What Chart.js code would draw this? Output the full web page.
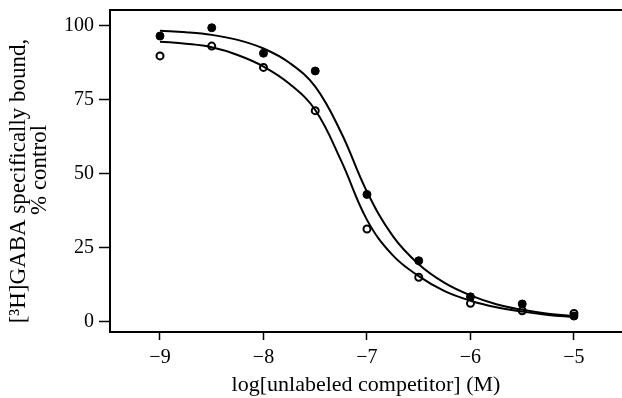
<!DOCTYPE html>
<html>
<head>
<meta charset="utf-8">
<script src="https://cdn.jsdelivr.net/npm/chart.js@4/dist/chart.umd.min.js"></script>
<style>
  body { margin: 0; background: #fff; }
  canvas { display: block; }
</style>
</head>
<body>
<canvas id="myChart" width="622" height="398"></canvas>
<script>
// measured points
const doses = [-9, -8.5, -8, -7.5, -7, -6.5, -6, -5.5, -5];
const filledPts = [96.6, 99.4, 90.8, 84.8, 43.1, 20.7, 8.5, 6.1, 2.0];
const openPts = [89.9, 93.2, 86.0, 71.4, 31.4, 15.1, 6.3, 3.8, 2.9];

// fitted curves
const fitX = [-9, -8.75, -8.5, -8.25, -8, -7.75, -7.5, -7.25, -7, -6.75, -6.5, -6.25, -6, -5.75, -5.5, -5.25, -5];
const filledFit = [98.4, 97.9, 97.0, 95.3, 92.4, 87.6, 79.5, 64, 44, 29, 19.5, 13.2, 9.0, 6.0, 4.1, 2.8, 2.0];
const openFit = [94.7, 94.0, 92.8, 90.2, 86.3, 80.5, 71.6, 54.5, 34.5, 22.5, 15.5, 10.4, 7.2, 5.0, 3.5, 2.4, 1.7];

const xTicks = [-9, -8, -7, -6, -5];
const yTicks = [0, 25, 50, 75, 100];
const yTitle = ['[\u00B3H]GABA specifically bound,', '% control'];

const toXY = (xs, ys) => xs.map((x, i) => ({ x: x, y: ys[i] }));
const minus = (v) => String(v).replace('-', '\u2212');

const tickFont = { family: 'Liberation Serif', size: 20 };
const titleFont = { family: 'Liberation Serif', size: 22 };

const noPad = (scale) => {
  scale.paddingTop = 0;
  scale.paddingBottom = 0;
  scale.paddingLeft = 0;
  scale.paddingRight = 0;
};

// top frame line + the two-line y title
const frame = {
  id: 'frame',
  afterDraw(chart) {
    const c = chart.ctx;
    const a = chart.chartArea;
    c.save();
    c.strokeStyle = '#000';
    c.lineWidth = 2;
    c.beginPath();
    c.moveTo(a.left - 1, a.top);
    c.lineTo(chart.width, a.top);
    c.stroke();

    c.fillStyle = '#000';
    c.font = '23px "Liberation Serif"';
    c.textAlign = 'center';
    c.textBaseline = 'middle';
    c.translate(19, (a.top + a.bottom) / 2 + 10);
    c.rotate(-Math.PI / 2);
    c.fillText(yTitle[0], 0, 0);
    c.fillText(yTitle[1], 11, 21);
    c.restore();
  },
};

const ctx = document.getElementById('myChart');

new Chart(ctx, {
  type: 'scatter',
  data: {
    datasets: [
      {
        label: 'fit filled',
        data: toXY(fitX, filledFit),
        showLine: true,
        pointRadius: 0,
        borderColor: '#000',
        borderWidth: 2,
        tension: 0.4,
      },
      {
        label: 'fit open',
        data: toXY(fitX, openFit),
        showLine: true,
        pointRadius: 0,
        borderColor: '#000',
        borderWidth: 2,
        tension: 0.4,
      },
      {
        label: 'filled',
        data: toXY(doses, filledPts),
        pointRadius: 4,
        backgroundColor: '#000',
        borderColor: '#000',
        borderWidth: 1,
      },
      {
        label: 'open',
        data: toXY(doses, openPts),
        pointRadius: 3.5,
        backgroundColor: '#fff',
        borderColor: '#000',
        borderWidth: 2,
      },
    ],
  },
  options: {
    responsive: false,
    animation: false,
    layout: { autoPadding: false, padding: { top: 10, right: 0, left: 0, bottom: 0 } },
    plugins: {
      legend: { display: false },
      tooltip: { enabled: false },
    },
    scales: {
      x: {
        type: 'linear',
        min: -9.483,
        max: -4.536,
        afterFit: (scale) => { scale.height = 66; noPad(scale); },
        afterBuildTicks: (scale) => { scale.ticks = xTicks.map((v) => ({ value: v })); },
        grid: { display: true, drawOnChartArea: false, tickLength: 8, color: '#000', tickWidth: 1.5 },
        border: { display: true, color: '#000', width: 2 },
        ticks: { color: '#000', font: tickFont, padding: 6, callback: minus, maxRotation: 0 },
        title: {
          display: true,
          text: 'log[unlabeled competitor] (M)',
          color: '#000',
          font: titleFont,
          padding: { top: 0, bottom: 0 },
        },
      },
      y: {
        min: -3.38,
        max: 105.4,
        afterFit: (scale) => { scale.width = 110; noPad(scale); },
        afterBuildTicks: (scale) => { scale.ticks = yTicks.map((v) => ({ value: v })); },
        grid: { display: true, drawOnChartArea: false, tickLength: 11, color: '#000', tickWidth: 1.5 },
        border: { display: true, color: '#000', width: 2 },
        ticks: { color: '#000', font: tickFont, padding: 5 },
        title: { display: false },
      },
    },
  },
  plugins: [frame],
});
</script>
</body>
</html>
